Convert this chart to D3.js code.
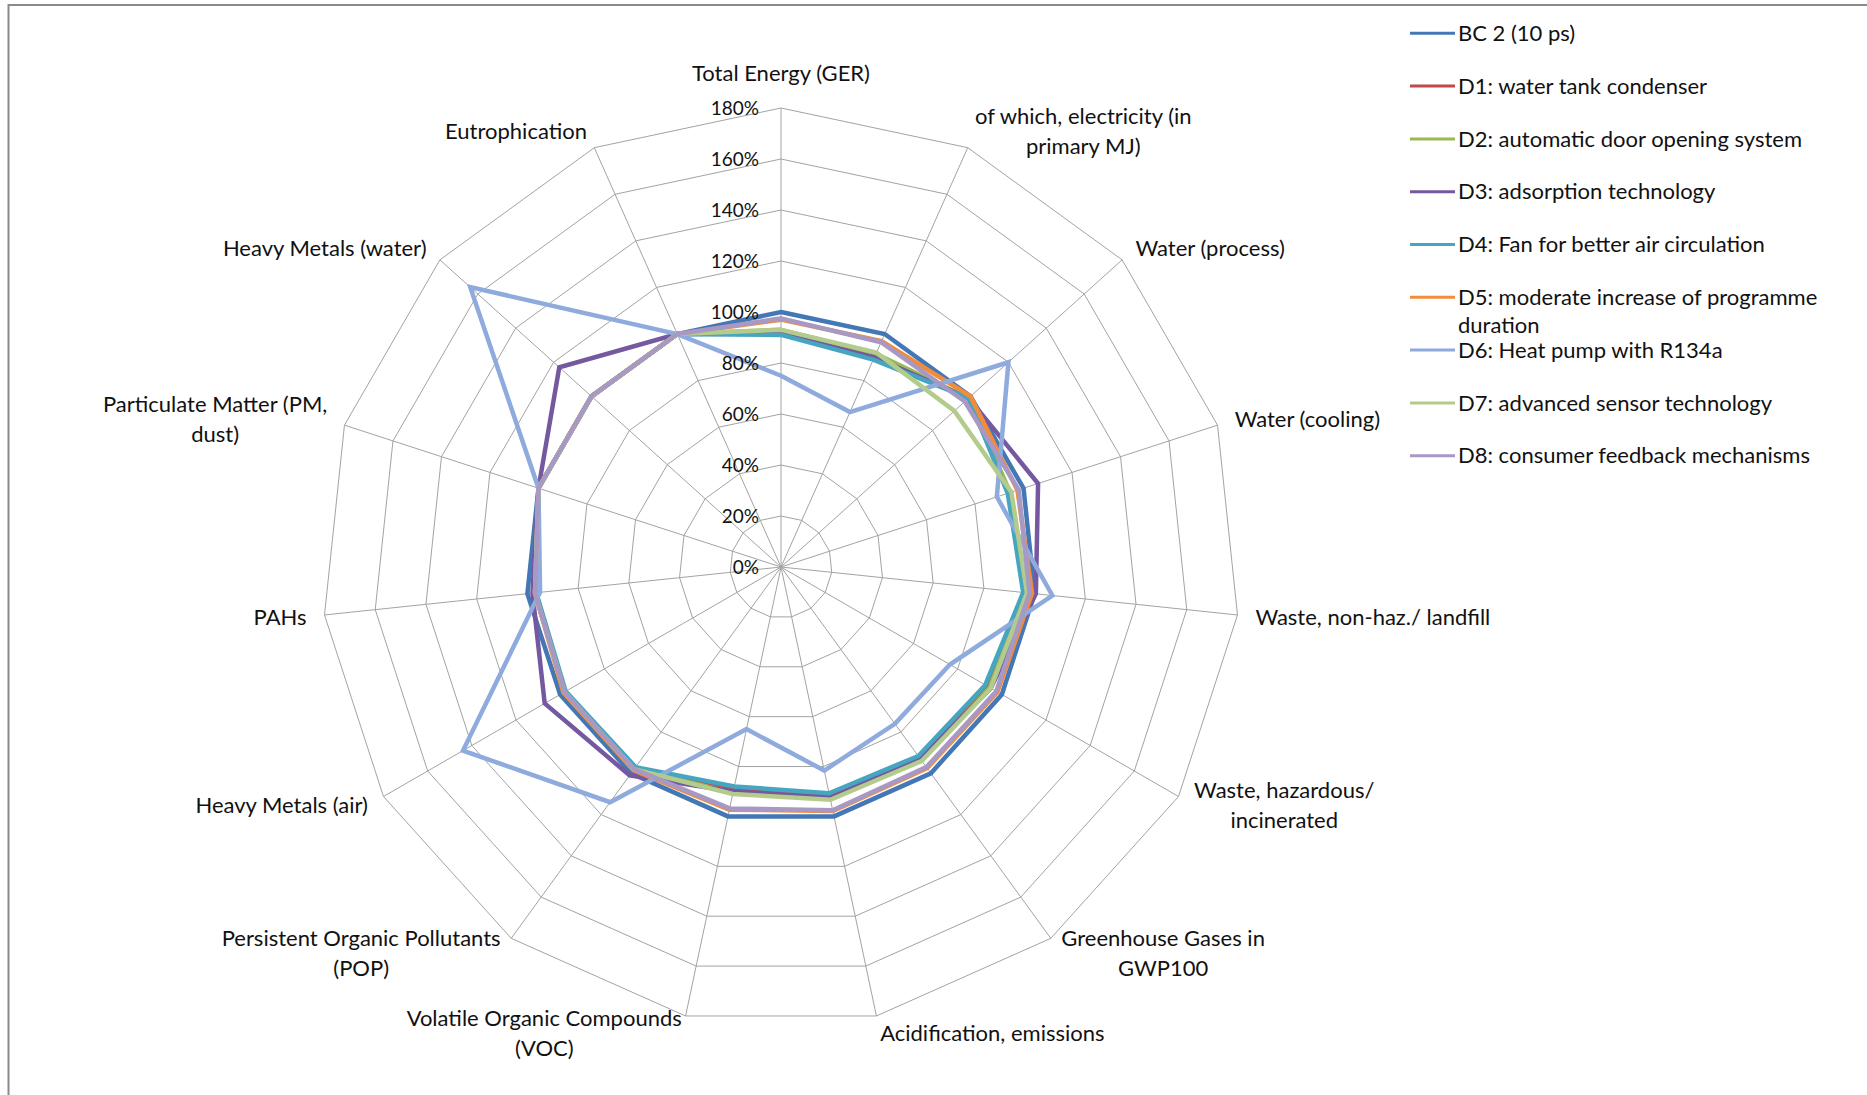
<!DOCTYPE html>
<html>
<head>
<meta charset="utf-8">
<script src="https://cdn.jsdelivr.net/npm/d3@7.8.5/dist/d3.min.js"></script>
<style>
  html, body { margin: 0; padding: 0; background: #fff; }
  svg { display: block; }
  text { font-family: Lato, "Open Sans", sans-serif; fill: #111; }
</style>
</head>
<body>
<svg id="chart" width="1867" height="1095"></svg>
<script>
// Impact categories, clockwise from the top spoke ("\n" marks a line break)
const categories = [
  "Total Energy (GER)",
  "of which, electricity (in\nprimary MJ)",
  "Water (process)",
  "Water (cooling)",
  "Waste, non-haz./ landfill",
  "Waste, hazardous/\nincinerated",
  "Greenhouse Gases in\nGWP100",
  "Acidification, emissions",
  "Volatile Organic Compounds\n(VOC)",
  "Persistent Organic Pollutants\n(POP)",
  "Heavy Metals (air)",
  "PAHs",
  "Particulate Matter (PM,\ndust)",
  "Heavy Metals (water)",
  "Eutrophication"
];

const seriesNames = [
  "BC 2 (10 ps)",
  "D1: water tank condenser",
  "D2: automatic door opening system",
  "D3: adsorption technology",
  "D4: Fan for better air circulation",
  "D5: moderate increase of programme duration",
  "D6: Heat pump with R134a",
  "D7: advanced sensor technology",
  "D8: consumer feedback mechanisms"
];

// Values in % of the base case, one per category
const valuesBC2 = [100, 100, 100, 100, 100, 100, 100, 100, 100, 100, 100, 100, 100, 100, 100];
const valuesD1  = [92, 90.5, 99, 94, 96.5, 94, 92.8, 92, 89.5, 98, 98, 97, 100, 100, 100];
const valuesD2  = [93, 91.5, 99, 94.5, 96.5, 94.5, 93.5, 93, 90.5, 98, 98, 97, 100, 100, 100];
const valuesD3  = [91.5, 90, 99, 106, 100.5, 95, 93, 92.5, 90, 101, 107, 98, 100, 117, 100];
const valuesD4  = [91, 89, 99, 93.5, 95.5, 92.5, 91.6, 90.7, 88, 97, 97.5, 96.5, 100, 100, 100];
const valuesD5  = [97, 97, 100, 97.5, 99, 98, 97.5, 97.8, 97.3, 98.5, 98.5, 97, 100, 100, 100];
const valuesD6  = [75, 66.5, 120, 89, 107, 76.5, 76, 81.6, 65, 114, 144, 95, 100, 164, 100];
const valuesD7  = [93, 92, 91.5, 95, 97, 95, 94, 93.3, 91, 98, 98, 97, 100, 100, 100];
const valuesD8  = [97.5, 96.5, 97, 98, 98, 97.5, 97, 97.5, 96.8, 98, 98, 97, 100, 100, 100];

const tickValues = [0, 20, 40, 60, 80, 100, 120, 140, 160, 180];

const colors = ["#4477B5", "#BE4B48", "#98B954", "#7458A0", "#46A5C0",
                "#F28C3A", "#8FAADC", "#B3CC8C", "#A898C4"];

const seriesValues = [valuesBC2, valuesD1, valuesD2, valuesD3, valuesD4,
                      valuesD5, valuesD6, valuesD7, valuesD8];

const svg = d3.select("#chart");
const W = 1867, H = 1095;

// chart frame
svg.append("rect")
  .attr("x", 8.5).attr("y", 5)
  .attr("width", W + 20).attr("height", H + 20)
  .attr("fill", "none").attr("stroke", "#8a8a8a").attr("stroke-width", 2);

const cx = 781, cy = 567, R = 459;
const n = categories.length;
const r = d3.scaleLinear().domain([0, 180]).range([0, R]);
const angle = d3.scaleLinear().domain([0, n]).range([0, 2 * Math.PI]);
const pt = (i, v) => [cx + r(v) * Math.sin(angle(i)), cy - r(v) * Math.cos(angle(i))];

const grid = svg.append("g").attr("class", "grid");

// rings
tickValues.slice(1).forEach(t => {
  grid.append("path")
    .attr("d", d3.line()(d3.range(n).map(i => pt(i, t))) + "Z")
    .attr("fill", "none").attr("stroke", "#a3a3a3").attr("stroke-width", 1);
});
// spokes
d3.range(n).forEach(i => {
  const [x, y] = pt(i, 180);
  grid.append("line")
    .attr("x1", cx).attr("y1", cy).attr("x2", x).attr("y2", y)
    .attr("stroke", "#a3a3a3").attr("stroke-width", 1);
});

// series lines
const lineGen = d3.line();
const plot = svg.append("g").attr("class", "series");
seriesValues.forEach((vals, s) => {
  plot.append("path")
    .attr("d", lineGen(vals.map((v, i) => pt(i, v))) + "Z")
    .attr("fill", "none")
    .attr("stroke", colors[s])
    .attr("stroke-width", 4.5)
    .attr("stroke-linejoin", "miter");
});

// radial tick labels
const fmt = v => v + "%";
svg.append("g").selectAll("text")
  .data(tickValues).join("text")
  .attr("x", cx - 22)
  .attr("y", d => cy - r(d))
  .attr("dy", "0.35em")
  .attr("text-anchor", "end")
  .style("font-size", "19px")
  .text(fmt);

// category labels
const lineH = 29.8;
const labels = svg.append("g").attr("class", "labels");
categories.forEach((cat, i) => {
  const lines = cat.split("\n");
  const a = angle(i);
  const s = Math.sin(a), c = -Math.cos(a);
  const px = cx + (R + 18) * s, py = cy + (R + 18) * c;
  const g = labels.append("g");
  const texts = lines.map(l => g.append("text")
    .attr("text-anchor", "middle").attr("dy", "0.35em")
    .style("font-size", "22px").text(l));
  const w = d3.max(texts, t => t.node().getComputedTextLength());
  let xc = px;
  if (s > 0.05) xc = px + w / 2;
  else if (s < -0.05) xc = px - w / 2;
  let yc = py;
  if (Math.abs(s) <= 0.05 && c < 0) yc = py - (lines.length * lineH) / 2 - 2;
  texts.forEach((t, k) => {
    t.attr("x", xc).attr("y", yc + (k - (lines.length - 1) / 2) * lineH);
  });
});

// legend
const legend = svg.append("g").attr("class", "legend");
const lx = 1410, ly0 = 33.3, lstep = 52.8, maxW = 395;
seriesNames.forEach((name, s) => {
  const y = ly0 + s * lstep;
  legend.append("line")
    .attr("x1", lx).attr("x2", lx + 45).attr("y1", y).attr("y2", y)
    .attr("stroke", colors[s]).attr("stroke-width", 3);
  // word wrap
  const words = name.split(" ");
  let line = [];
  let row = 0;
  let t = legend.append("text").attr("x", lx + 48).attr("y", y).attr("dy", "0.35em")
    .style("font-size", "22px");
  words.forEach(wd => {
    line.push(wd);
    t.text(line.join(" "));
    if (t.node().getComputedTextLength() > maxW && line.length > 1) {
      line.pop();
      t.text(line.join(" "));
      line = [wd];
      row++;
      t = legend.append("text").attr("x", lx + 48).attr("y", y + row * 28).attr("dy", "0.35em")
        .style("font-size", "22px").text(wd);
    }
  });
});
</script>
</body>
</html>
